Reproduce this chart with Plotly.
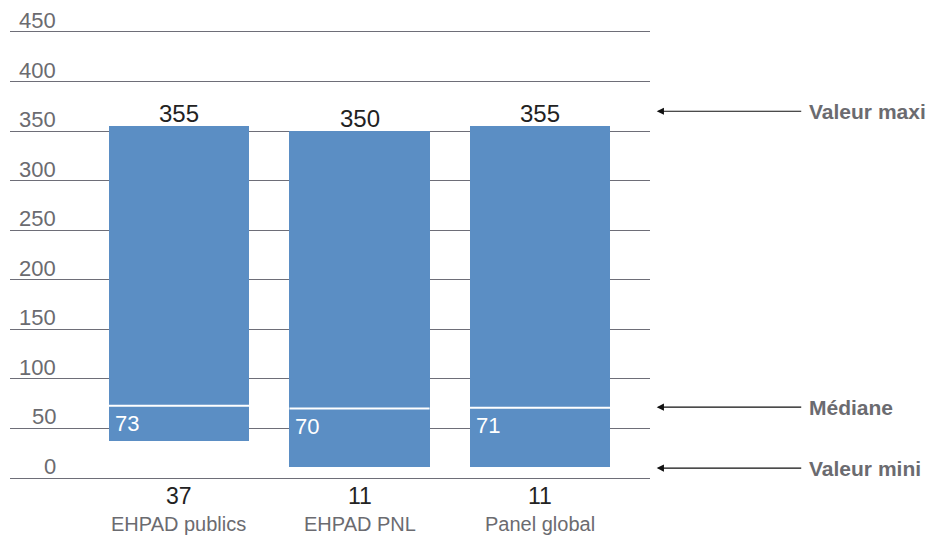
import plotly.graph_objects as go

categories = ["EHPAD publics", "EHPAD PNL", "Panel global"]
min_vals = [37, 11, 11]
median_vals = [73, 70, 71]
max_vals = [355, 350, 355]
y_ticks = [0, 50, 100, 150, 200, 250, 300, 350, 400, 450]

BAR_COLOR = "#5b8ec4"
GRID = "#6e6e78"
GRAY = "#6b6b70"
FONT = "Liberation Sans"
W = 0.776

xs = list(range(len(categories)))
fig = go.Figure()

fig.add_trace(go.Bar(
    x=xs, y=[mx - mn for mx, mn in zip(max_vals, min_vals)], base=min_vals,
    width=W, marker=dict(color=BAR_COLOR, line=dict(width=0)),
    hoverinfo="skip", showlegend=False,
))

# median lines
mx_, my_ = [], []
for i, m in zip(xs, median_vals):
    mx_ += [i - W / 2, i + W / 2, None]
    my_ += [m, m, None]
fig.add_trace(go.Scatter(x=mx_, y=my_, mode="lines",
                         line=dict(color="white", width=2),
                         hoverinfo="skip", showlegend=False))

ann = []
for i, mn, md, mx in zip(xs, min_vals, median_vals, max_vals):
    ann.append(dict(x=i, y=mx, xref="x", yref="y", text=str(mx), showarrow=False,
                    yanchor="bottom", yshift=-3,
                    font=dict(family=FONT, size=24, color="#222222")))
    ann.append(dict(x=i - W / 2, y=md, xref="x", yref="y", text=str(md), showarrow=False,
                    xanchor="left", yanchor="top", xshift=4, yshift=-3,
                    font=dict(family=FONT, size=22, color="white")))
    ann.append(dict(x=i, y=0, xref="x", yref="y", text=str(mn), showarrow=False,
                    yanchor="top", yshift=-3,
                    font=dict(family=FONT, size=23, color="#222222")))
    ann.append(dict(x=i, y=0, xref="x", yref="y", text=categories[i], showarrow=False,
                    yanchor="top", yshift=-33,
                    font=dict(family=FONT, size=20, color=GRAY)))

for t in y_ticks:
    ann.append(dict(x=0.075, y=t, xref="paper", yref="y", text=str(t), showarrow=False,
                    xanchor="right", yanchor="bottom", yshift=-3,
                    font=dict(family=FONT, size=22, color=GRAY)))

# right-side legend arrows
side = [("Valeur maxi", 370), ("Médiane", 71.5), ("Valeur mini", 10)]
for label, yv in side:
    ann.append(dict(x=1.0105, y=yv, xref="paper", yref="y", text="", showarrow=True,
                    arrowhead=2, arrowsize=1.2, arrowwidth=1.2, arrowcolor="#111111",
                    ax=146, ay=0, axref="pixel", ayref="pixel"))
    ann.append(dict(x=1.245, y=yv, xref="paper", yref="y", text="<b>" + label + "</b>",
                    showarrow=False, xanchor="left", yanchor="middle",
                    font=dict(family=FONT, size=21, color=GRAY)))

fig.update_layout(
    width=946, height=537,
    margin=dict(l=10, r=296, t=30, b=59),
    paper_bgcolor="white", plot_bgcolor="white",
    bargap=0,
    xaxis=dict(range=[-0.936, 2.609], showticklabels=False, showgrid=False,
               zeroline=False, showline=False, fixedrange=True),
    yaxis=dict(range=[0, 452], tickvals=y_ticks, showticklabels=False,
               showgrid=True, gridcolor=GRID, gridwidth=1,
               zeroline=True, zerolinecolor=GRID, zerolinewidth=1,
               showline=False, fixedrange=True),
    annotations=ann,
    font=dict(family=FONT),
)

fig.write_html("out.html")
